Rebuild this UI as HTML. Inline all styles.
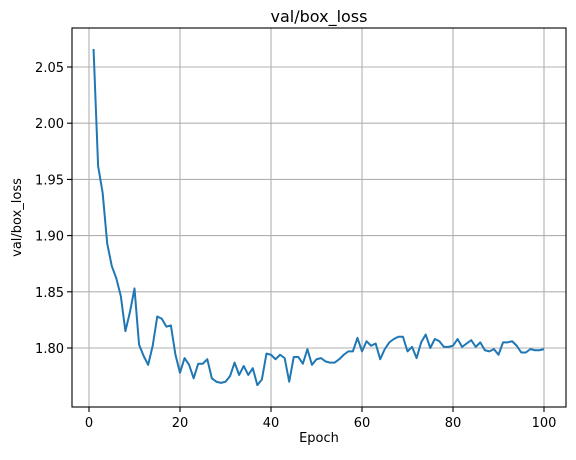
<!DOCTYPE html>
<html><head><meta charset="utf-8"><style>
body{margin:0;background:#fff;font-family:"Liberation Sans","DejaVu Sans",sans-serif}
svg text{font-family:"DejaVu Sans","Liberation Sans",sans-serif;fill:#000}
</style></head><body>
<svg id="c" width="576" height="455"></svg>
<script>
const xTicks=[0,20,40,60,80,100];
const yTicks=[1.80,1.85,1.90,1.95,2.00,2.05];
const yTickLabels=["1.80","1.85","1.90","1.95","2.00","2.05"];
const epochs=Array.from({length:100},(_,i)=>i+1);
const boxLoss=[2.066,1.962,1.938,1.893,1.873,1.862,1.846,1.815,1.832,1.853,1.803,1.793,1.785,1.802,1.828,1.826,1.819,1.820,1.794,1.778,1.791,1.785,1.773,1.786,1.786,1.790,1.773,1.770,1.769,1.770,1.775,1.787,1.776,1.784,1.776,1.782,1.767,1.772,1.795,1.794,1.790,1.794,1.791,1.770,1.792,1.792,1.786,1.799,1.785,1.790,1.791,1.788,1.787,1.787,1.790,1.794,1.797,1.797,1.809,1.797,1.806,1.802,1.804,1.790,1.799,1.805,1.808,1.810,1.810,1.797,1.801,1.791,1.805,1.812,1.800,1.808,1.806,1.801,1.801,1.802,1.808,1.801,1.804,1.807,1.801,1.805,1.798,1.797,1.799,1.794,1.805,1.805,1.806,1.802,1.796,1.796,1.799,1.798,1.798,1.799];
const L=72,R=566,T=28,B=407;
const X=v=>89+(v-0)*4.55;
const Y=v=>348-(v-1.80)*1124;
const svg=document.getElementById('c');const NS='http://www.w3.org/2000/svg';
function mk(t,a,p){const e=document.createElementNS(NS,t);for(const k in a)e.setAttribute(k,a[k]);(p||svg).appendChild(e);return e;}
xTicks.forEach(v=>{const x=X(v);
const g=mk('line',{x1:x,x2:x,y1:T,y2:B,stroke:'#b0b0b0','stroke-width':1.1});


mk('line',{x1:x,x2:x,y1:B,y2:B+5,stroke:'#000','stroke-width':1.1});
const t=mk('text',{x:x,y:B+20,'text-anchor':'middle','font-size':13});t.textContent=v;

});
yTicks.forEach((v,i)=>{const y=Y(v);
const g=mk('line',{x1:L,x2:R,y1:y,y2:y,stroke:'#b0b0b0','stroke-width':1.1});


mk('line',{x1:L-5,x2:L,y1:y,y2:y,stroke:'#000','stroke-width':1.1});
const t=mk('text',{x:L-8,y:y+5,'text-anchor':'end','font-size':13});t.textContent=yTickLabels[i];

});
const line=mk('polyline',{points:epochs.map((e,i)=>X(e)+','+Y(boxLoss[i])).join(' '),fill:'none',stroke:'#1f77b4','stroke-width':2,'stroke-linejoin':'round'});


const fr=mk('rect',{x:L,y:T,width:R-L,height:B-T,fill:'none',stroke:'#000','stroke-width':1.1});


const ti=mk('text',{x:(L+R)/2,y:22,'text-anchor':'middle','font-size':16});ti.textContent='val/box_loss';


const xl=mk('text',{x:(L+R)/2,y:442,'text-anchor':'middle','font-size':13});xl.textContent='Epoch';


const yl=mk('text',{x:0,y:0,'text-anchor':'middle','font-size':13,transform:'translate(21,'+((T+B)/2)+') rotate(-90)'});yl.textContent='val/box_loss';


</script></body></html>
